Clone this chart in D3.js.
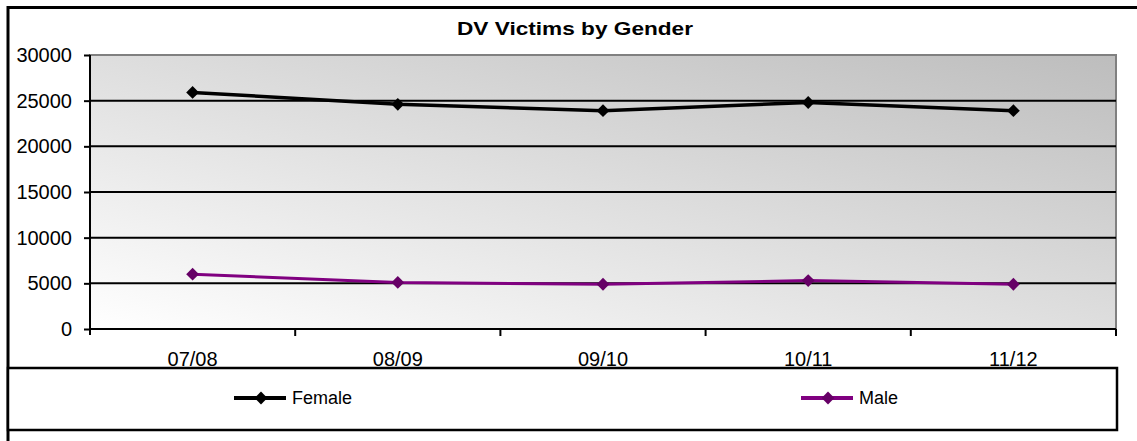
<!DOCTYPE html>
<html>
<head>
<meta charset="utf-8">
<script src="https://cdn.jsdelivr.net/npm/d3@7"></script>
<style>
  html, body { margin: 0; padding: 0; background: #fff; }
  svg { display: block; font-family: "Liberation Sans", Arial, sans-serif; }
</style>
</head>
<body>
<svg id="chart" width="1137" height="441"></svg>
<script>
// Chart data
const categories = ["07/08", "08/09", "09/10", "10/11", "11/12"];
const femaleValues = [25900, 24600, 23900, 24800, 23900];
const maleValues = [6000, 5100, 4900, 5300, 4900];
const yTicks = [0, 5000, 10000, 15000, 20000, 25000, 30000];
const seriesNames = ["Female", "Male"];

const series = [
  { name: seriesNames[0], values: femaleValues, line: "#000000", marker: "#000000", width: 3.5 },
  { name: seriesNames[1], values: maleValues, line: "#800080", marker: "#660066", width: 3 }
];

const svg = d3.select("#chart");
const W = 1137, H = 441;
const plot = { left: 90, right: 1116, top: 55, bottom: 329 };

const x = d3.scaleBand().domain(categories).range([plot.left, plot.right]).paddingInner(0).paddingOuter(0);
const y = d3.scaleLinear().domain([0, 30000]).range([plot.bottom, plot.top]);

// Plot-area gradient: light at bottom-left, grey toward top-right
const defs = svg.append("defs");
const grad = defs.append("linearGradient")
  .attr("id", "plotBg")
  .attr("x1", "0%").attr("y1", "100%")
  .attr("x2", "100%").attr("y2", "0%");
grad.append("stop").attr("offset", "0%").attr("stop-color", "#ffffff");
grad.append("stop").attr("offset", "100%").attr("stop-color", "#bdbdbd");

// Outer chart frame (top and left edges visible)
svg.append("line").attr("x1", 8).attr("x2", W).attr("y1", 7.5).attr("y2", 7.5)
  .attr("stroke", "#000").attr("stroke-width", 3);
svg.append("line").attr("x1", 8).attr("x2", 8).attr("y1", 6).attr("y2", H)
  .attr("stroke", "#000").attr("stroke-width", 3);

// Title
svg.append("text")
  .attr("x", 575).attr("y", 35)
  .attr("text-anchor", "middle")
  .attr("font-weight", "bold")
  .attr("font-size", 18)
  .attr("textLength", 236)
  .attr("lengthAdjust", "spacingAndGlyphs")
  .attr("fill", "#000")
  .text("DV Victims by Gender");

// Plot area background and border
svg.append("rect")
  .attr("x", plot.left).attr("y", plot.top)
  .attr("width", plot.right - plot.left).attr("height", plot.bottom - plot.top)
  .attr("fill", "url(#plotBg)")
  .attr("stroke", "#808080").attr("stroke-width", 2);

// Horizontal gridlines
svg.append("g")
  .selectAll("line")
  .data(yTicks.filter(d => d > 0 && d < 30000))
  .join("line")
  .attr("x1", plot.left).attr("x2", plot.right)
  .attr("y1", d => y(d)).attr("y2", d => y(d))
  .attr("stroke", "#000").attr("stroke-width", 2);

// Y axis
const yAxis = d3.axisLeft(y).tickValues(yTicks).tickSize(6).tickPadding(12).tickFormat(d3.format("d"));
const gy = svg.append("g").attr("transform", `translate(${plot.left},0)`).call(yAxis);
gy.select(".domain").attr("stroke", "#000").attr("stroke-width", 2)
  .attr("d", `M0,${plot.top}V${plot.bottom + 6}`);
gy.selectAll(".tick line").attr("stroke", "#000").attr("stroke-width", 2);
gy.selectAll(".tick text")
  .attr("font-size", 20)
  .attr("font-family", "'Liberation Sans', Arial, sans-serif")
  .attr("fill", "#000");

// X axis: tick marks at category boundaries, labels at category centres
const boundaries = categories.map(c => x(c)).concat([plot.right]);
svg.append("line")
  .attr("x1", plot.left).attr("x2", plot.right)
  .attr("y1", plot.bottom).attr("y2", plot.bottom)
  .attr("stroke", "#000").attr("stroke-width", 2);
svg.append("g").selectAll("line")
  .data(boundaries.slice(1))
  .join("line")
  .attr("x1", d => d).attr("x2", d => d)
  .attr("y1", plot.bottom).attr("y2", plot.bottom + 7)
  .attr("stroke", "#000").attr("stroke-width", 2);
svg.append("g").selectAll("text")
  .data(categories)
  .join("text")
  .attr("x", d => x(d) + x.bandwidth() / 2)
  .attr("y", 366)
  .attr("text-anchor", "middle")
  .attr("font-size", 20)
  .attr("fill", "#000")
  .text(d => d);

// Series lines and diamond markers (squares turned 45 degrees)
const line = d3.line()
  .x((d, i) => x(categories[i]) + x.bandwidth() / 2)
  .y(d => y(d));
const diamond = d3.symbol().type(d3.symbolSquare).size(82);

series.forEach(s => {
  svg.append("path")
    .datum(s.values)
    .attr("d", line)
    .attr("fill", "none")
    .attr("stroke", s.line)
    .attr("stroke-width", s.width)
    .attr("stroke-linejoin", "round");
  svg.append("g").selectAll("path")
    .data(s.values)
    .join("path")
    .attr("d", diamond)
    .attr("transform", (d, i) => `translate(${x(categories[i]) + x.bandwidth() / 2},${y(d)}) rotate(45)`)
    .attr("fill", s.marker);
});

// Legend box
svg.append("rect")
  .attr("x", 8).attr("y", 368)
  .attr("width", 1117 - 8).attr("height", 430 - 368)
  .attr("fill", "#fff")
  .attr("stroke", "#000").attr("stroke-width", 2.5);

const legendItems = [
  { s: series[0], x0: 234 },
  { s: series[1], x0: 801 }
];
legendItems.forEach(({ s, x0 }) => {
  const g = svg.append("g").attr("transform", `translate(${x0},398)`);
  g.append("line").attr("x1", 0).attr("x2", 52).attr("y1", 0).attr("y2", 0)
    .attr("stroke", s.line).attr("stroke-width", 4);
  g.append("path").attr("d", diamond).attr("transform", "translate(27,0) rotate(45)").attr("fill", s.marker);
  g.append("text").attr("x", 58).attr("y", 6)
    .attr("font-size", 18).attr("fill", "#000")
    .text(s.name);
});
</script>
</body>
</html>
